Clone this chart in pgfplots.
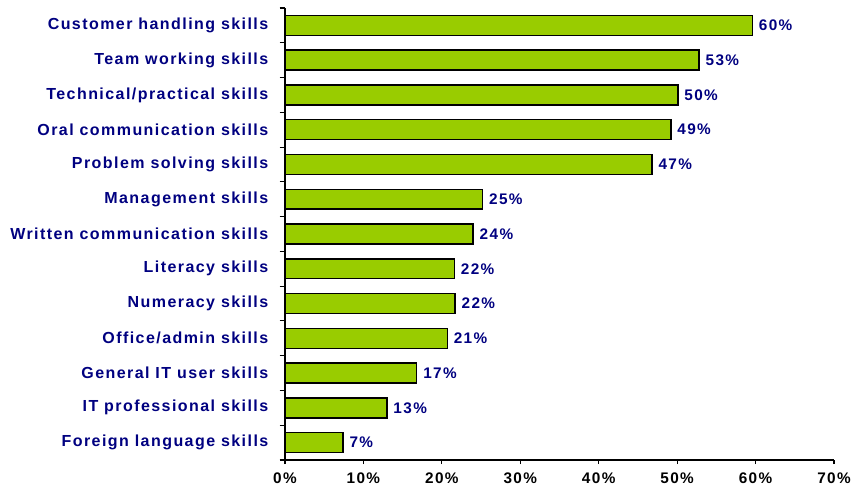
\documentclass[border=0pt]{standalone}
\usepackage{pgfplots}
\pgfplotsset{compat=1.18}
\usepackage{fontspec}
\setmainfont{Liberation Sans}
\newfontfamily\lblfont{Liberation Sans}[LetterSpace=9]
\definecolor{barg}{HTML}{99CC00}
\definecolor{navy}{HTML}{000080}
\begin{document}
\begin{tikzpicture}
\useasboundingbox (-213.75pt,-21.75pt) rectangle (426pt,345pt);
\begin{axis}[
  at={(0,0)}, anchor=south west,
  scale only axis, width=411.75pt, height=339pt,
  xbar, bar width=0.575,
  xmin=0, xmax=70, ymin=-0.5, ymax=12.5,
  axis lines*=left,
  axis line style={-, line width=0.8pt, black},
  xtick={0,10,...,70},
  xticklabels={0\%,10\%,20\%,30\%,40\%,50\%,60\%,70\%},
  ytick={0,...,12},
  yticklabels={Foreign language skills, IT professional skills, General IT user skills, Office/admin skills, Numeracy skills, Literacy skills, Written communication skills, Management skills, Problem solving skills, Oral communication skills, Technical/practical skills, Team working skills, Customer handling skills},
  minor ytick={-0.5,0.5,...,12.5},
  major y tick style={draw=none},
  tick align=outside,
  major tick length=3pt, minor tick length=4pt,
  tick style={black, line width=0.8pt},
  xticklabel style={font=\fontsize{11.5}{13}\selectfont\lblfont\bfseries, black, yshift=-3pt},
  yticklabel style={font=\fontsize{12}{14}\selectfont\lblfont\bfseries, text=navy, xshift=-6pt},
  nodes near coords={\pgfmathprintnumber[fixed,precision=0,assume math mode=true]{\pgfplotspointmeta}\%},
  point meta=x,
  nodes near coords style={font=\fontsize{11.5}{13}\selectfont\lblfont\bfseries, text=navy, anchor=west, xshift=1pt},
  clip=false,
]
\addplot[fill=barg, draw=black, line width=1.1pt] coordinates {
(7.4,0) (13.0,1) (16.8,2) (20.7,3) (21.7,4) (21.6,5) (24.0,6) (25.2,7) (46.8,8) (49.2,9) (50.1,10) (52.8,11) (59.6,12)
};
\end{axis}
\end{tikzpicture}
\end{document}
